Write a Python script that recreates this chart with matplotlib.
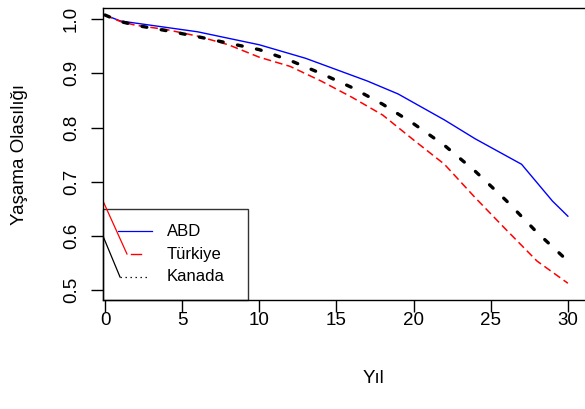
import matplotlib
matplotlib.use("Agg")
import matplotlib.pyplot as plt
from matplotlib.lines import Line2D
from matplotlib.patches import Rectangle

plt.rcParams['font.family'] = ['Liberation Sans', 'DejaVu Sans']
plt.rcParams['lines.scale_dashes'] = False

# survival probabilities
abd_years = [0, 1, 6, 10, 13, 17, 19, 22, 24, 27, 29, 30]
abd = [1.008, 0.997, 0.977, 0.953, 0.928, 0.886, 0.862, 0.814, 0.779, 0.732, 0.664, 0.636]

years = [0, 1, 2, 4, 6, 8, 10, 12, 14, 16, 18, 20, 22, 24, 26, 28, 30]
turkiye = [1.008, 0.996, 0.989, 0.981, 0.969, 0.953, 0.930, 0.913, 0.886, 0.856,
           0.823, 0.777, 0.732, 0.670, 0.611, 0.553, 0.512]
kanada = [1.008, 0.996, 0.989, 0.979, 0.968, 0.956, 0.944, 0.924, 0.900, 0.874,
          0.843, 0.807, 0.767, 0.719, 0.665, 0.606, 0.553]

series_names = ['ABD', 'Türkiye', 'Kanada']
x_ticks = [0, 5, 10, 15, 20, 25, 30]
y_ticks = [0.5, 0.6, 0.7, 0.8, 0.9, 1.0]
y_tick_labels = ['0.5', '0.6', '0.7', '0.8', '0.9', '1.0']

fig = plt.figure(figsize=(5.85, 4.09), dpi=100)
ax = fig.add_axes([103 / 585, 1 - 300 / 409, 540 / 585, 292 / 409])

ax.plot(abd_years, abd, color='blue', lw=1.0)
ax.plot(years, turkiye, color='red', lw=1.1, dashes=(5.5, 3.0))
ax.plot(years, kanada, color='black', lw=2.4, dashes=(3.5, 10.5),
        dash_capstyle='round')

ax.set_xlim(-0.13, 34.87)
ax.set_ylim(0.481, 1.021)
ax.set_xticks(x_ticks)
ax.set_yticks(y_ticks)
ax.set_yticklabels(y_tick_labels, rotation=90, va='center')
ax.tick_params(axis='both', length=8.5, width=1.0, labelsize=13.5, direction='out')
ax.tick_params(axis='x', pad=0)
ax.tick_params(axis='y', pad=8)
for s in ax.spines.values():
    s.set_linewidth(1.0)

ax.set_ylabel('Yaşama Olasılığı', fontsize=13.5)
ax.yaxis.set_label_coords(-0.138, 0.5)
ax.set_xlabel('Yıl', fontsize=13.5)
ax.xaxis.set_label_coords(0.5, -0.24)

# legend, drawn the way the original R legend looks
tr = ax.transAxes
ax.add_patch(Rectangle((0, 0), 0.2685, 0.3116, transform=tr, fill=False,
                       edgecolor='#333333', lw=1.0, clip_on=False))
rows = [0.2363, 0.1575, 0.0788]
ax.add_line(Line2D([0.0278, 0.0907], [rows[0]] * 2, transform=tr, color='blue', lw=0.9))
ax.add_line(Line2D([0.0, 0.0444], [0.339, rows[1]], transform=tr, color='red', lw=0.9))
ax.add_line(Line2D([0.0518, 0.0704], [rows[1]] * 2, transform=tr, color='red', lw=1.0))
ax.add_line(Line2D([0.0, 0.0315], [0.219, rows[2]], transform=tr, color='black', lw=0.9))
ax.add_line(Line2D([0.0315, 0.0815], [rows[2]] * 2, transform=tr, color='black', lw=0.9,
                   dashes=(1.0, 2.6)))
for name, r in zip(series_names, rows):
    ax.text(0.1185, r, name, transform=tr, fontsize=12, va='center', ha='left')

fig.savefig('out.png', dpi=100)
